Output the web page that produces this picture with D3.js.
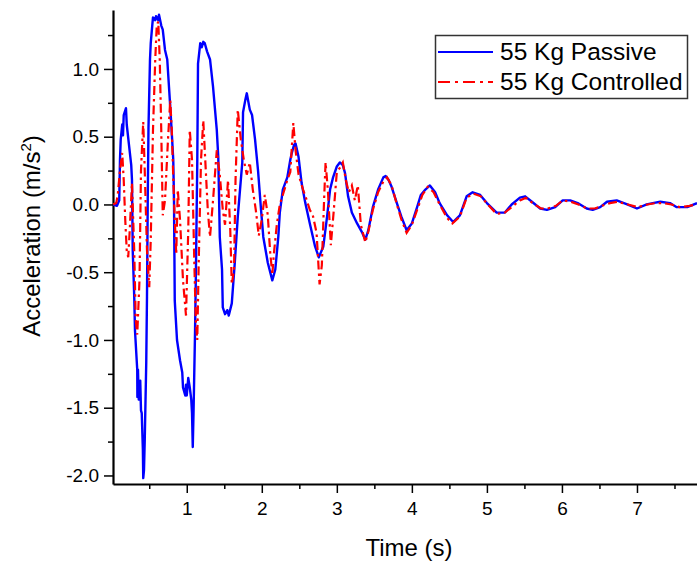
<!DOCTYPE html>
<html>
<head>
<meta charset="utf-8">
<script src="https://cdn.jsdelivr.net/npm/d3@7"></script>
<style>
  body { margin: 0; background: #fff; }
  text { font-family: "Liberation Sans", Arial, sans-serif; fill: #000; }
</style>
</head>
<body>
<svg id="accel-chart"></svg>
<script>
// passive (blue) series
const passiveTime = [0.02,0.07,0.10,0.11,0.12,0.14,0.15,0.16,0.19,0.20,0.23,0.26,0.27,0.28,0.30,0.31,0.34,0.342,0.35,0.36,0.38,0.39,0.40,0.415,0.42,0.43,0.44,0.46,0.47,0.48,0.49,0.51,0.52,0.54,0.55,0.58,0.59,0.62,0.63,0.66,0.68,0.71,0.74,0.78,0.80,0.82,0.83,0.84,0.87,0.91,0.94,0.95,0.98,0.99,1.00,1.02,1.04,1.06,1.07,1.08,1.09,1.11,1.12,1.14,1.15,1.18,1.20,1.22,1.24,1.27,1.31,1.35,1.40,1.42,1.43,1.44,1.47,1.48,1.51,1.54,1.56,1.60,1.64,1.68,1.74,1.75,1.78,1.80,1.84,1.87,1.91,1.95,1.99,2.02,2.08,2.14,2.18,2.22,2.24,2.28,2.34,2.38,2.40,2.43,2.45,2.49,2.53,2.58,2.64,2.71,2.76,2.82,2.87,2.91,2.95,3.00,3.04,3.08,3.11,3.15,3.20,3.27,3.34,3.38,3.42,3.48,3.55,3.62,3.65,3.69,3.73,3.80,3.86,3.93,4.00,4.07,4.12,4.18,4.24,4.31,4.37,4.47,4.55,4.64,4.73,4.81,4.91,5.00,5.13,5.24,5.33,5.44,5.51,5.60,5.71,5.80,5.91,6.01,6.11,6.21,6.33,6.41,6.51,6.60,6.73,6.87,7.00,7.13,7.21,7.31,7.44,7.53,7.67,7.80];
const passiveAcc = [0.00,-0.01,0.03,0.33,0.48,0.59,0.51,0.66,0.71,0.59,0.44,0.29,0.18,-0.34,-0.68,-0.93,-1.22,-1.42,-1.22,-1.44,-1.30,-1.52,-1.54,-1.81,-2.02,-1.96,-1.74,-1.17,-0.68,0.03,0.57,1.07,1.19,1.32,1.38,1.36,1.39,1.36,1.40,1.32,1.29,1.14,1.07,0.72,0.53,0.33,0.03,-0.71,-1.00,-1.15,-1.24,-1.35,-1.41,-1.33,-1.41,-1.28,-1.35,-1.44,-1.54,-1.79,-1.54,-0.95,-0.58,0.31,1.04,1.19,1.16,1.20,1.19,1.13,1.07,0.87,0.55,0.35,0.06,-0.24,-0.48,-0.76,-0.81,-0.78,-0.82,-0.73,-0.43,-0.09,0.31,0.68,0.77,0.82,0.70,0.66,0.48,0.25,-0.04,-0.24,-0.43,-0.56,-0.48,-0.24,-0.06,0.11,0.20,0.33,0.38,0.44,0.45,0.35,0.16,0.01,-0.14,-0.31,-0.39,-0.31,-0.09,0.11,0.20,0.28,0.31,0.29,0.23,0.06,-0.06,-0.14,-0.21,-0.26,-0.19,-0.02,0.11,0.20,0.21,0.18,0.13,0.01,-0.09,-0.19,-0.14,-0.02,0.07,0.11,0.14,0.09,0.01,-0.08,-0.13,-0.08,0.06,0.09,0.07,0.01,-0.06,-0.06,0.00,0.05,0.06,0.02,-0.03,-0.04,-0.02,0.03,0.03,0.01,-0.03,-0.04,-0.02,0.02,0.03,0.00,-0.03,0.00,0.01,0.02,0.01,-0.02,-0.02,0.01];

// controlled (red) series
const controlledTime = [0.02,0.06,0.08,0.11,0.14,0.16,0.18,0.20,0.22,0.24,0.27,0.30,0.32,0.34,0.37,0.39,0.42,0.44,0.47,0.50,0.52,0.55,0.58,0.60,0.62,0.64,0.66,0.68,0.71,0.75,0.78,0.80,0.83,0.86,0.88,0.91,0.95,0.99,1.02,1.04,1.07,1.10,1.12,1.14,1.16,1.19,1.22,1.24,1.28,1.31,1.35,1.40,1.44,1.48,1.51,1.55,1.58,1.60,1.63,1.65,1.68,1.72,1.76,1.80,1.84,1.88,1.92,1.96,2.00,2.04,2.08,2.11,2.14,2.16,2.20,2.24,2.28,2.34,2.38,2.42,2.45,2.49,2.55,2.60,2.64,2.68,2.73,2.77,2.80,2.83,2.85,2.88,2.92,2.96,3.00,3.04,3.08,3.12,3.16,3.20,3.24,3.28,3.32,3.38,3.42,3.48,3.55,3.62,3.67,3.73,3.80,3.86,3.93,4.00,4.07,4.14,4.21,4.29,4.37,4.47,4.54,4.64,4.73,4.82,4.92,5.01,5.13,5.24,5.35,5.44,5.52,5.61,5.72,5.81,5.92,6.01,6.12,6.22,6.34,6.44,6.53,6.64,6.74,6.88,7.01,7.14,7.25,7.36,7.46,7.57,7.70,7.80];
const controlledAcc = [0.00,0.01,0.07,0.25,0.38,0.18,-0.11,-0.34,-0.39,-0.19,0.16,-0.34,-0.85,-0.96,-0.56,0.25,0.61,0.25,-0.34,-0.61,-0.26,0.55,1.07,1.32,1.35,1.07,0.55,-0.08,0.03,0.48,0.77,0.55,0.03,-0.37,0.11,-0.11,-0.56,-0.82,-0.19,0.55,0.33,-0.41,-0.85,-1.00,-0.41,0.33,0.62,0.40,-0.04,-0.24,0.03,0.40,0.22,-0.04,-0.15,0.18,-0.19,-0.59,-0.48,0.18,0.70,0.48,0.33,0.22,0.31,0.11,-0.04,-0.23,-0.11,0.07,-0.08,-0.34,-0.52,-0.37,-0.15,0.00,0.07,0.18,0.24,0.60,0.40,0.22,0.11,0.03,-0.04,-0.08,-0.21,-0.59,-0.45,0.03,0.31,0.11,-0.30,-0.04,0.24,0.27,0.31,0.18,0.09,0.14,0.03,0.14,-0.15,-0.28,-0.20,-0.04,0.09,0.17,0.20,0.14,0.00,-0.11,-0.21,-0.15,-0.04,0.07,0.13,0.09,0.00,-0.10,-0.14,-0.09,0.05,0.08,0.06,0.00,-0.07,-0.06,-0.01,0.03,0.05,0.01,-0.03,-0.03,-0.01,0.03,0.02,0.00,-0.03,-0.03,-0.01,0.01,0.02,0.00,-0.02,0.00,0.01,0.01,0.00,-0.02,-0.01,0.00];

const seriesNames = ["55 Kg Passive", "55 Kg Controlled"];
const xTickValues = [1, 2, 3, 4, 5, 6, 7];
const xMinorValues = [0.5, 1.5, 2.5, 3.5, 4.5, 5.5, 6.5, 7.5];
const yTickValues = [-2.0, -1.5, -1.0, -0.5, 0.0, 0.5, 1.0];
const yMinorValues = [-1.75, -1.25, -0.75, -0.25, 0.25, 0.75, 1.25];

let W = 697, H = 563;
let plotLeft = 113, plotRight = 697, plotTop = 10, plotBottom = 484;

let svg = d3.select("#accel-chart")
    .attr("width", W)
    .attr("height", H);

let x = d3.scaleLinear()
    .domain([0.017, 7.8])
    .range([plotLeft, plotRight]);

let y = d3.scaleLinear()
    .domain([-2.063, 1.435])
    .range([plotBottom, plotTop]);

svg.append("defs").append("clipPath")
    .attr("id", "plot-clip")
    .append("rect")
    .attr("x", plotLeft)
    .attr("y", 0)
    .attr("width", plotRight - plotLeft)
    .attr("height", plotBottom);

// minor ticks first, then major axes on top
svg.append("g")
    .attr("transform", `translate(0,${plotBottom})`)
    .call(d3.axisBottom(x).tickValues(xMinorValues).tickSize(5).tickFormat(""))
    .call(g => g.select(".domain").remove())
    .selectAll("line").attr("stroke-width", 1.5);

svg.append("g")
    .attr("transform", `translate(${plotLeft},0)`)
    .call(d3.axisLeft(y).tickValues(yMinorValues).tickSize(5).tickFormat(""))
    .call(g => g.select(".domain").remove())
    .selectAll("line").attr("stroke-width", 1.5);

let xAxis = svg.append("g")
    .attr("transform", `translate(0,${plotBottom})`)
    .call(d3.axisBottom(x).tickValues(xTickValues).tickSize(9).tickSizeOuter(0).tickPadding(9).tickFormat(d => String(d)));

// plain hyphen for negatives, like the original
let yAxis = svg.append("g")
    .attr("transform", `translate(${plotLeft},0)`)
    .call(d3.axisLeft(y).tickValues(yTickValues).tickSize(9).tickSizeOuter(0).tickPadding(5).tickFormat(d => d.toFixed(1)));

[xAxis, yAxis].forEach(a => {
    a.select(".domain").attr("stroke-width", 2.2);
    a.selectAll(".tick line").attr("stroke-width", 1.5);
    a.selectAll("text")
        .style("font-family", "'Liberation Sans', Arial, sans-serif")
        .style("font-size", "19px")
        .attr("fill", "#000");
});

// curves
let line = d3.line()
    .x(d => x(d[0]))
    .y(d => y(d[1]));

let passive = passiveTime.map((t, i) => [t, passiveAcc[i]]);
let controlled = controlledTime.map((t, i) => [t, controlledAcc[i]]);

let plot = svg.append("g").attr("clip-path", "url(#plot-clip)");

plot.append("path")
    .datum(passive)
    .attr("d", line)
    .attr("fill", "none")
    .attr("stroke", "#0000ff")
    .attr("stroke-width", 2.4)
    .attr("stroke-linejoin", "round");

plot.append("path")
    .datum(controlled)
    .attr("d", line)
    .attr("fill", "none")
    .attr("stroke", "#ff0000")
    .attr("stroke-width", 2.2)
    .attr("stroke-dasharray", "9,4,2.5,4");

// axis titles
svg.append("text")
    .attr("x", (plotLeft + plotRight) / 2 + 4)
    .attr("y", 556)
    .attr("text-anchor", "middle")
    .style("font-size", "24px")
    .text("Time (s)");

let yTitle = svg.append("text")
    .attr("transform", "translate(40,236) rotate(-90)")
    .attr("text-anchor", "middle")
    .style("font-size", "24px");
yTitle.append("tspan").text("Acceleration (m/s");
yTitle.append("tspan").attr("dy", -9).style("font-size", "15px").text("2");
yTitle.append("tspan").attr("dy", 9).text(")");

// legend
let legend = svg.append("g");
legend.append("rect")
    .attr("x", 435.5)
    .attr("y", 35.5)
    .attr("width", 252)
    .attr("height", 63)
    .attr("fill", "#fff")
    .attr("stroke", "#333")
    .attr("stroke-width", 1.5);

const legendColors = ["#0000ff", "#ff0000"];
const legendDash = [null, "12,5,3,5"];
seriesNames.forEach((name, i) => {
    let cy = 52 + i * 30;
    legend.append("line")
        .attr("x1", 438).attr("x2", 493)
        .attr("y1", cy).attr("y2", cy)
        .attr("stroke", legendColors[i])
        .attr("stroke-width", 2)
        .attr("stroke-dasharray", legendDash[i]);
    legend.append("text")
        .attr("x", 500)
        .attr("y", cy + 8)
        .style("font-size", "24.5px")
        .text(name);
});
</script>
</body>
</html>
